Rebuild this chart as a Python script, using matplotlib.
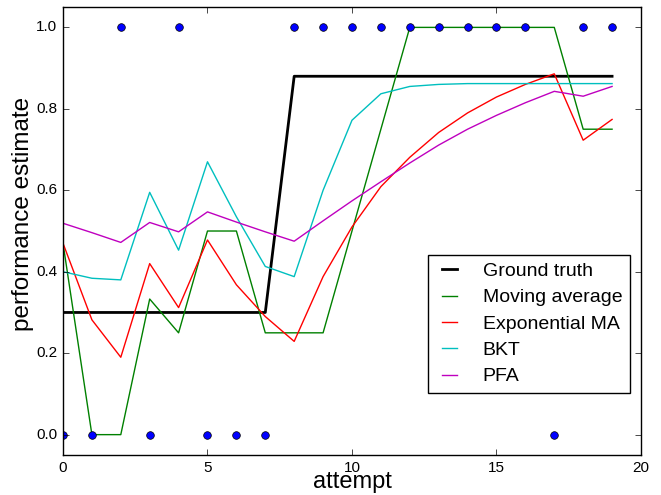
import matplotlib
matplotlib.use('Agg')
import matplotlib.pyplot as plt
import numpy as np

plt.style.use('classic')
plt.rcParams['font.family'] = ['Liberation Sans', 'DejaVu Sans']

attempts = np.arange(20)
observed = [0, 0, 1, 0, 1, 0, 0, 0, 1, 1, 1, 1, 1, 1, 1, 1, 1, 0, 1, 1]
ground_truth = [0.3] * 8 + [0.88] * 12
moving_avg = [0.47, 0.0, 0.0, 0.333, 0.25, 0.5, 0.5, 0.25, 0.25, 0.25,
              0.5, 0.75, 1.0, 1.0, 1.0, 1.0, 1.0, 1.0, 0.75, 0.75]
exp_ma = [0.47, 0.282, 0.19, 0.42, 0.312, 0.478, 0.368, 0.29, 0.229, 0.388,
          0.51, 0.609, 0.681, 0.742, 0.79, 0.829, 0.86, 0.886, 0.723, 0.774]
bkt = [0.40, 0.384, 0.38, 0.595, 0.453, 0.67, 0.535, 0.413, 0.388, 0.60,
       0.772, 0.837, 0.855, 0.86, 0.862, 0.862, 0.862, 0.862, 0.862, 0.862]
pfa = [0.519, 0.496, 0.472, 0.521, 0.498, 0.547, 0.522, 0.498, 0.475, 0.525,
       0.574, 0.621, 0.667, 0.711, 0.75, 0.784, 0.815, 0.843, 0.831, 0.855]

fig = plt.figure(figsize=(6.61, 4.95), dpi=100, facecolor='white')
ax = fig.add_axes([0.0953, 0.0808, 0.8744, 0.905])

ax.plot(attempts, ground_truth, color='k', lw=2, label='Ground truth')
ax.plot(attempts, moving_avg, color='g', lw=1, label='Moving average')
ax.plot(attempts, exp_ma, color='r', lw=1, label='Exponential MA')
ax.plot(attempts, bkt, color='c', lw=1, label='BKT')
ax.plot(attempts, pfa, color='m', lw=1, label='PFA')
ax.plot(attempts, observed, 'bo', ms=5.5, mec='k', mew=0.5)

ax.set_xlim(0, 20)
ax.set_ylim(-0.05, 1.05)
ax.set_xticks([0, 5, 10, 15, 20])
ax.set_yticks([0.0, 0.2, 0.4, 0.6, 0.8, 1.0])
ax.tick_params(labelsize=11)
ax.set_xlabel('attempt', fontsize=17, labelpad=-2.5)
ax.set_ylabel('performance estimate', fontsize=17.5)
ax.yaxis.set_label_coords(-0.05, 0.538)

ax.legend(loc='lower right', bbox_to_anchor=(0.981, 0.138), borderaxespad=0,
          fontsize=14, handlelength=1.4, handletextpad=1.0, labelspacing=0.45)

fig.savefig('out.png', dpi=100, facecolor='white')
